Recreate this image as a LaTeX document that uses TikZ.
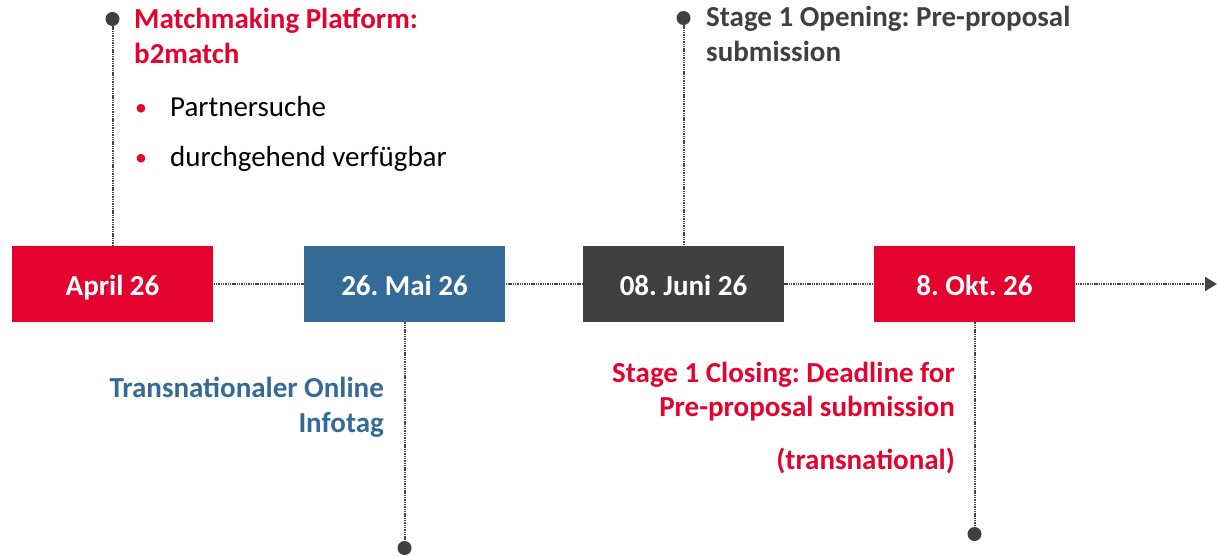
\documentclass[tikz,border=0pt]{standalone}
\usepackage{fontspec}
\setmainfont{Carlito}
\frenchspacing
\usetikzlibrary{arrows.meta}
\definecolor{cred}{HTML}{E4032E}
\definecolor{cblue}{HTML}{336A96}
\definecolor{cgray}{HTML}{404040}
\definecolor{cline}{HTML}{444444}
\begin{document}
\begin{tikzpicture}[x=1pt,y=-1pt,
  datebox/.style={minimum width=201pt,minimum height=76pt,inner sep=0pt,text height=22pt,text depth=0pt,text=white,font=\fontsize{29}{35}\selectfont\bfseries},
  dotline/.style={draw=cline,line width=2pt,dash pattern=on 1.4pt off 0.9pt},
  dotend/.style={circle,fill=cgray,minimum size=14pt,inner sep=0pt},
  txt/.style={inner sep=0pt,font=\fontsize{29}{35}\selectfont},
  bul/.style={inner sep=0pt,text=cred,font=\fontsize{24}{26}\selectfont},
  btxt/.style={inner sep=0pt,font=\fontsize{29}{35}\selectfont\bfseries}]
\useasboundingbox (0,0) rectangle (1217,556);
% connectors (drawn first, behind boxes)
\coordinate (c1) at (112.5,284);
\coordinate (c2) at (404.5,284);
\coordinate (c3) at (683.5,284);
\coordinate (c4) at (974.5,284);
\coordinate (end) at (1217,284);
\draw[dotline] (c1) -- (c4);
\draw[dotline,-{Triangle[width=14pt,length=12pt]},cline] (c4) -- (end);
% boxes
\node[datebox,fill=cred]  (b1) at (c1) {April 26};
\node[datebox,fill=cblue] (b2) at (c2) {26. Mai 26};
\node[datebox,fill=cgray] (b3) at (c3) {08. Juni 26};
\node[datebox,fill=cred]  (b4) at (c4) {8. Okt. 26};
% dots
\node[dotend] (d1) at (112.5,19) {};
\node[dotend] (d2) at (683.5,18) {};
\node[dotend] (d3) at (404.5,548) {};
\node[dotend] (d4) at (974.5,534) {};
\draw[dotline] (d1) -- (b1.north);
\draw[dotline] (d2) -- (b3.north);
\draw[dotline] (b2.south) -- (d3);
\draw[dotline] (b4.south) -- (d4);
% texts
\node[btxt,text=cred,anchor=base west] (t1a) at (134,29) {Matchmaking Platform:};
\node[btxt,text=cred,anchor=base west] (t1b) at (134,64) {b2match};
\node[bul,anchor=base] (bu1) at (141,116) {•};
\node[txt,anchor=base west] (t1c) at (170,117) {Partnersuche};
\node[bul,anchor=base] (bu2) at (141,166) {•};
\node[txt,anchor=base west] (t1d) at (170,167) {durchgehend verfügbar};
\node[btxt,text=cgray,anchor=base west] (t2a) at (706,27) {Stage 1 Opening: Pre-proposal};
\node[btxt,text=cgray,anchor=base west] (t2b) at (706,62) {submission};
\node[btxt,text=cblue,anchor=base east] (t3a) at (384,397) {Transnationaler Online};
\node[btxt,text=cblue,anchor=base east] (t3b) at (384,432) {Infotag};
\node[btxt,text=cred,anchor=base east] (t4a) at (955,382) {Stage 1 Closing: Deadline for};
\node[btxt,text=cred,anchor=base east] (t4b) at (955,416) {Pre-proposal submission};
\node[btxt,text=cred,anchor=base east] (t4c) at (955,469) {(transnational)};
\end{tikzpicture}
\end{document}
